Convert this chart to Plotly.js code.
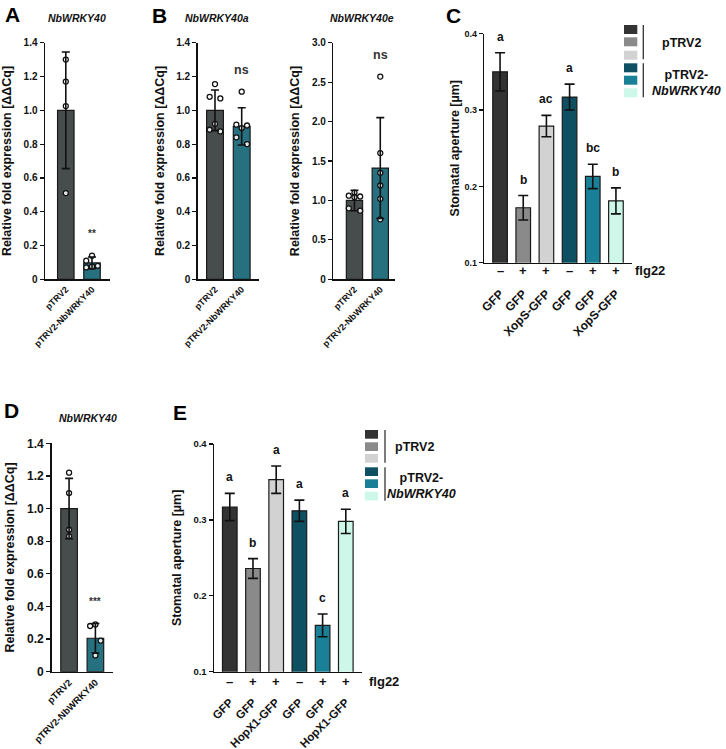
<!DOCTYPE html>
<html><head><meta charset="utf-8">
<script src="https://cdn.plot.ly/plotly-3.0.1.min.js"></script>
<style>html,body{margin:0;padding:0;background:#fff;} #chart{width:726px;height:749px;}</style>
</head><body><div id="chart"></div>
<script>
// ================= DATA =================
const exprGroups = ['pTRV2', 'pTRV2-NbWRKY40'];
// Panel A  (NbWRKY40)
const aMean = [1.0, 0.097];
const aSD = [0.345, 0.035];
const aPts1 = [1.30, 1.17, 1.025, 0.51];
const aPts2 = [0.14, 0.11, 0.08, 0.075, 0.07];
// Panel B  (NbWRKY40a)
const baMean = [1.0, 0.905];
const baSD = [0.12, 0.11];
const baPts1 = [1.155, 1.08, 1.07, 0.92, 0.885, 0.875];
const baPts2 = [1.11, 0.915, 0.91, 0.895, 0.84, 0.80];
// Panel B  (NbWRKY40e)
const beMean = [1.0, 1.41];
const beSD = [0.13, 0.64];
const bePts1 = [1.10, 1.06, 1.05, 1.04, 0.90, 0.87];
const bePts2 = [2.57, 1.60, 1.35, 1.19, 1.02, 0.76];
// Panel D  (NbWRKY40)
const dMean = [1.0, 0.205];
const dSD = [0.185, 0.09];
const dPts1 = [1.22, 1.095, 0.87, 0.83];
const dPts2 = [0.29, 0.28, 0.19, 0.10];
const sigA = '**', sigBa = 'ns', sigBe = 'ns', sigD = '***';

// Panels C and E (stomatal aperture)
const flg22 = ['–', '+', '+', '–', '+', '+'];
const cLabels = ['GFP', 'GFP', 'XopS-GFP', 'GFP', 'GFP', 'XopS-GFP'];
const cMean = [0.350, 0.172, 0.279, 0.317, 0.213, 0.181];
const cSEM  = [0.025, 0.016, 0.014, 0.017, 0.016, 0.017];
const cLetters = ['a', 'b', 'ac', 'a', 'bc', 'b'];
const eLabels = ['GFP', 'GFP', 'HopX1-GFP', 'GFP', 'GFP', 'HopX1-GFP'];
const eMean = [0.317, 0.236, 0.353, 0.312, 0.161, 0.298];
const eSEM  = [0.018, 0.013, 0.018, 0.014, 0.015, 0.016];
const eLetters = ['a', 'b', 'a', 'a', 'c', 'a'];
const legendGroups = ['pTRV2', 'pTRV2-<br><i>NbWRKY40</i>'];

const exprTickVals = [0, 0.2, 0.4, 0.6, 0.8, 1.0, 1.2, 1.4];
const exprTickText = ['0', '0.2', '0.4', '0.6', '0.8', '1.0', '1.2', '1.4'];
const beTickVals = [0, 0.5, 1.0, 1.5, 2.0, 2.5, 3.0];
const beTickText = ['0', '0.5', '1.0', '1.5', '2.0', '2.5', '3.0'];
const stoTickVals = [0.1, 0.2, 0.3, 0.4];
const stoTickText = ['0.1', '0.2', '0.3', '0.4'];

// ================= STYLE =================
const W = 726, H = 749;
const FONT = 'Liberation Sans, Arial, sans-serif';
const exprColors = ['#474d4d', '#26707f'];
const stoColors = ['#333333', '#8a8a8a', '#d2d2d2', '#0e4f62', '#1a8097', '#cdf7e9'];
const px = v => v / W;
const py = v => 1 - v / H;
const xd = (a, b) => [px(a), px(b)];
const yd = (top, bot) => [py(bot), py(top)];

const traces = [];
const annotations = [];
const shapes = [];

function jitter(n, amp) {
  const pat = [0, -1, 1];
  const out = [];
  for (let i = 0; i < n; i++) out.push(pat[i % 3] * amp);
  return out;
}

function exprPanel(ax, mean, sd, pts1, pts2, amp1, amp2, sig) {
  const xa = 'x' + (ax === 1 ? '' : ax), ya = 'y' + (ax === 1 ? '' : ax);
  traces.push({type: 'bar', x: [0, 1], y: mean, width: 0.63, xaxis: xa, yaxis: ya,
    marker: {color: exprColors, line: {color: '#1a1a1a', width: 1.2}}, hoverinfo: 'skip'});
  [[pts1, 0, amp1], [pts2, 1, amp2]].forEach(([p, c, amp]) => {
    const j = jitter(p.length, amp);
    traces.push({type: 'scatter', mode: 'markers', xaxis: xa, yaxis: ya,
      x: p.map((v, i) => c + j[i]), y: p,
      marker: {symbol: 'circle', size: 5, color: 'rgba(255,255,255,0.85)', line: {color: '#111', width: 1.3}},
      hoverinfo: 'skip', cliponaxis: false});
  });
  traces.push({type: 'scatter', mode: 'markers', xaxis: xa, yaxis: ya, x: [0, 1], y: mean,
    marker: {size: 1, color: 'rgba(0,0,0,0)'},
    error_y: {type: 'data', array: sd, visible: true, color: '#111', thickness: 1.6, width: 4},
    hoverinfo: 'skip', cliponaxis: false});
  const top = Math.max(mean[1] + sd[1], Math.max(...pts2));
  annotations.push({xref: xa, yref: ya, x: 1, y: top, yshift: 22, yanchor: 'middle',
    text: sig, showarrow: false,
    font: {family: FONT, size: sig === 'ns' ? 12.5 : 10, weight: 700, color: '#333'}});
}

exprPanel(1, aMean, aSD, aPts1, aPts2, 0, 0.22, sigA);
exprPanel(2, baMean, baSD, baPts1, baPts2, 0.2, 0.2, sigBa);
exprPanel(3, beMean, beSD, bePts1, bePts2, 0.22, 0, sigBe);
exprPanel(5, dMean, dSD, dPts1, dPts2, 0, 0.2, sigD);

function stoPanel(ax, mean, sem, letters) {
  const xa = 'x' + ax, ya = 'y' + ax;
  traces.push({type: 'bar', x: [0, 1, 2, 3, 4, 5], y: mean, width: 0.63, xaxis: xa, yaxis: ya,
    base: 0, marker: {color: stoColors, line: {color: '#1a1a1a', width: 1.2}},
    error_y: {type: 'data', array: sem, visible: true, color: '#111', thickness: 1.6, width: 5},
    hoverinfo: 'skip'});
  letters.forEach((t, i) => annotations.push({xref: xa, yref: ya, x: i, y: mean[i] + sem[i],
    yanchor: 'bottom', yshift: 7, text: t, showarrow: false,
    font: {family: FONT, size: 12, weight: 700, color: '#111'}}));
}
stoPanel(4, cMean, cSEM, cLetters);
stoPanel(6, eMean, eSEM, eLetters);

function flgRow(ax, yPix, flgX) {
  flg22.forEach((s, i) => annotations.push({xref: 'x' + ax, yref: 'paper', x: i, y: py(yPix),
    yanchor: 'middle', text: s, showarrow: false, font: {family: FONT, size: 13, weight: 700, color: '#111'}}));
  annotations.push({xref: 'paper', yref: 'paper', x: px(flgX), y: py(yPix), xanchor: 'center', yanchor: 'middle',
    text: 'flg22', showarrow: false, font: {family: FONT, size: 13, weight: 700, color: '#111'}});
}
flgRow(4, 270, 650);
flgRow(6, 681.7, 383.5);

function legendBlock(x0, x1, rowTops, h, lineX, g1, g2, t1, t2, fs) {
  rowTops.forEach((t, i) => shapes.push({type: 'rect', xref: 'paper', yref: 'paper',
    x0: px(x0), x1: px(x1), y0: py(t + h), y1: py(t), fillcolor: stoColors[i], line: {width: 0}}));
  [g1, g2].forEach(g => shapes.push({type: 'line', xref: 'paper', yref: 'paper',
    x0: px(lineX), x1: px(lineX), y0: py(g[1]), y1: py(g[0]), line: {color: '#333', width: 1.3}}));
  [[legendGroups[0], t1], [legendGroups[1], t2]].forEach(([txt, pos]) =>
    annotations.push({xref: 'paper', yref: 'paper', x: px(pos[0]), y: py(pos[1]), xanchor: 'center', yanchor: 'middle',
      align: 'center', text: txt, showarrow: false, font: {family: FONT, size: fs, weight: 700, color: '#111'}}));
}
legendBlock(624, 637.3, [25, 37.3, 50.7, 63.3, 75.7, 88.3], 9, 643.3, [25, 59.3], [63.3, 97.3],
  [681, 43.3], [686, 83], 12.5);
legendBlock(365, 378, [430, 442.3, 454, 467.3, 479.3, 491.7], 8.7, 385, [430, 462.7], [467.3, 500.7],
  [415, 446.7], [421, 486.3], 12.5);

// panel letters and gene titles
[['A', 12, 14], ['B', 159, 15], ['C', 453, 15], ['D', 11, 410], ['E', 180, 413]].forEach(([t, x, y]) =>
  annotations.push({xref: 'paper', yref: 'paper', x: px(x), y: py(y), xanchor: 'center', yanchor: 'middle',
    text: t, showarrow: false, font: {family: FONT, size: 21, weight: 700, color: '#000'}}));
[['NbWRKY40', 77, 18], ['NbWRKY40a', 217, 18], ['NbWRKY40e', 362, 18], ['NbWRKY40', 88, 418]].forEach(([t, x, y]) =>
  annotations.push({xref: 'paper', yref: 'paper', x: px(x), y: py(y), xanchor: 'center', yanchor: 'middle',
    text: t, showarrow: false, font: {family: FONT, size: 10.5, weight: 700, style: 'italic', color: '#111'}}));

// ================= AXES =================
function yAxis(dom, range, tv, tt, title, tfs, standoff) {
  return {domain: dom, range: range, tickvals: tv, ticktext: tt, ticks: 'outside', ticklen: 4, tickwidth: 1.2,
    tickcolor: '#111', showline: true, linecolor: '#111', linewidth: 1.5, showgrid: false, zeroline: false,
    tickfont: {family: FONT, size: tfs, weight: 700, color: '#111'}, fixedrange: true,
    title: {text: title, standoff: standoff, font: {family: FONT, size: 12.5, weight: 700, color: '#111'}}};
}
function xAxis(dom, range, tv, tt, fs, tlen, anchor) {
  return {domain: dom, range: range, tickvals: tv, ticktext: tt, anchor: anchor, tickangle: -45,
    ticks: 'outside', ticklen: tlen, tickcolor: 'rgba(0,0,0,0)', showline: true, linecolor: '#111', linewidth: 1.5,
    showgrid: false, zeroline: false, fixedrange: true, tickfont: {family: FONT, size: fs, weight: 700, color: '#111'}};
}
const exprTitle = 'Relative fold expression [ΔΔCq]';
const stoTitle = 'Stomatal aperture [µm]';

const layout = {
  width: W, height: H, margin: {l: 0, r: 0, t: 0, b: 0}, paper_bgcolor: '#fff', plot_bgcolor: 'rgba(0,0,0,0)',
  showlegend: false, bargap: 0,
  xaxis:  xAxis(xd(45, 110), [-0.794, 1.687], [0, 1], exprGroups, 9, 0, 'y'),
  yaxis:  yAxis(yd(42.7, 279.3), [0, 1.4], exprTickVals, exprTickText, exprTitle, 10, 9),
  xaxis2: xAxis(xd(197.7, 259), [-0.648, 1.648], [0, 1], exprGroups, 9, 0, 'y2'),
  yaxis2: Object.assign(yAxis(yd(42.7, 279.3), [0, 1.4], exprTickVals, exprTickText, exprTitle, 10, 9), {anchor: 'x2'}),
  xaxis3: xAxis(xd(333.3, 395), [-0.82, 1.57], [0, 1], exprGroups, 9, 0, 'y3'),
  yaxis3: Object.assign(yAxis(yd(42.7, 279.3), [0, 3.0], beTickVals, beTickText, exprTitle, 10, 9), {anchor: 'x3'}),
  xaxis4: xAxis(xd(484.3, 631.7), [-0.68, 5.68], [0, 1, 2, 3, 4, 5], cLabels, 12, 18, 'y4'),
  yaxis4: Object.assign(yAxis(yd(33.7, 262.7), [0.1, 0.4], stoTickVals, stoTickText, stoTitle, 9, 2), {anchor: 'x4'}),
  xaxis5: xAxis(xd(51.7, 113.3), [-0.66, 1.68], [0, 1], exprGroups, 9.5, 0, 'y5'),
  yaxis5: Object.assign(yAxis(yd(443.3, 671.7), [0, 1.4], exprTickVals, exprTickText, exprTitle, 12, 9), {anchor: 'x5'}),
  xaxis6: xAxis(xd(214, 361.7), [-0.68, 5.685], [0, 1, 2, 3, 4, 5], eLabels, 11.5, 18, 'y6'),
  yaxis6: Object.assign(yAxis(yd(444, 671.7), [0.1, 0.4], stoTickVals, stoTickText, stoTitle, 9.5, 9), {anchor: 'x6'}),
  annotations: annotations, shapes: shapes
};
layout.yaxis.anchor = 'x';
Plotly.newPlot('chart', traces, layout, {staticPlot: true, displayModeBar: false});
</script>
</body></html>
